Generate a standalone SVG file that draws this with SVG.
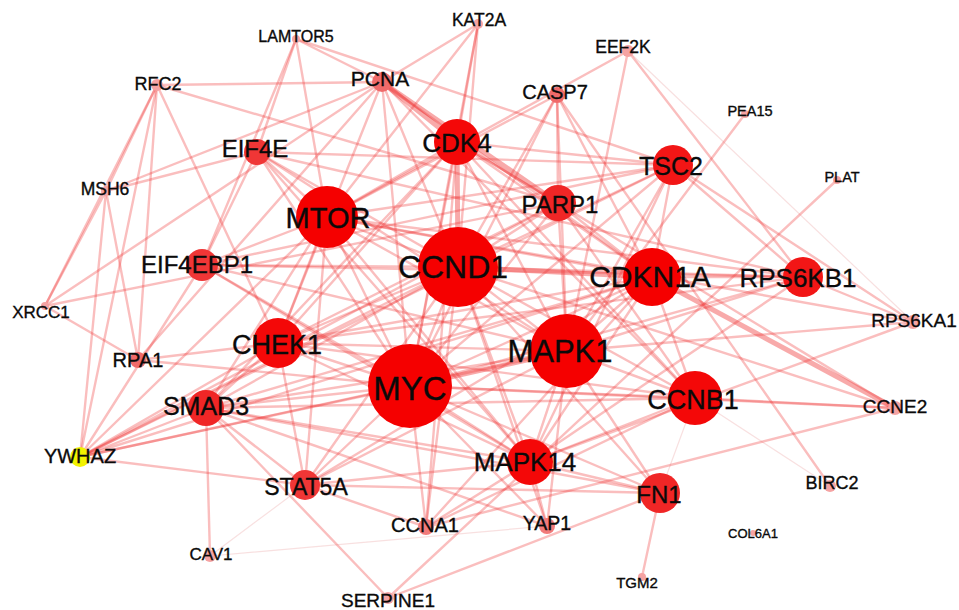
<svg xmlns="http://www.w3.org/2000/svg" width="959" height="610" viewBox="0 0 959 610">
<style>
#edges line{stroke:#ee3434;stroke-opacity:.32;stroke-width:2.4;stroke-linecap:round}
#edges line.t{stroke-width:5;stroke-opacity:.42}
#edges line.f{stroke:#e07070;stroke-opacity:.22;stroke-width:1.2}
text{font-family:"Liberation Sans",Arial,sans-serif;fill:#0a0a0a;stroke:#0a0a0a;stroke-width:.35;text-anchor:middle}
.c1{fill:#f50000}.c2{fill:#f40808}.c3{fill:#f21616}.c4{fill:#f02626}.c5{fill:#f03636}.c6{fill:#f06a6a}.c7{fill:#f27a7a}.c8{fill:#f5a3a3}.cy{fill:#f2f200}
</style>
<rect width="959" height="610" fill="#fff"/>
<g id="edges">
<line x1="458" y1="267" x2="410" y2="386"/>
<line x1="458" y1="267" x2="567" y2="351"/>
<line x1="458" y1="267" x2="327" y2="217"/>
<line class="t" x1="458" y1="267" x2="652" y2="277"/>
<line class="t" x1="458" y1="267" x2="457" y2="142"/>
<line x1="458" y1="267" x2="695" y2="398"/>
<line x1="458" y1="267" x2="278" y2="343"/>
<line x1="458" y1="267" x2="530" y2="462"/>
<line x1="458" y1="267" x2="803" y2="277"/>
<line x1="458" y1="267" x2="673" y2="165"/>
<line x1="458" y1="267" x2="558" y2="203"/>
<line x1="458" y1="267" x2="206" y2="408"/>
<line x1="458" y1="267" x2="660" y2="493"/>
<line x1="458" y1="267" x2="202" y2="265"/>
<line x1="458" y1="267" x2="257" y2="152"/>
<line x1="458" y1="267" x2="305" y2="485"/>
<line x1="458" y1="267" x2="382" y2="82"/>
<line x1="458" y1="267" x2="557" y2="95"/>
<line x1="458" y1="267" x2="80" y2="457"/>
<line x1="458" y1="267" x2="426" y2="527"/>
<line x1="458" y1="267" x2="547" y2="526"/>
<line x1="458" y1="267" x2="895" y2="408"/>
<line x1="458" y1="267" x2="478" y2="24"/>
<line class="t" x1="410" y1="386" x2="567" y2="351"/>
<line x1="410" y1="386" x2="327" y2="217"/>
<line x1="410" y1="386" x2="652" y2="277"/>
<line x1="410" y1="386" x2="457" y2="142"/>
<line x1="410" y1="386" x2="695" y2="398"/>
<line x1="410" y1="386" x2="278" y2="343"/>
<line x1="410" y1="386" x2="530" y2="462"/>
<line x1="410" y1="386" x2="803" y2="277"/>
<line x1="410" y1="386" x2="673" y2="165"/>
<line x1="410" y1="386" x2="558" y2="203"/>
<line x1="410" y1="386" x2="206" y2="408"/>
<line x1="410" y1="386" x2="660" y2="493"/>
<line x1="410" y1="386" x2="202" y2="265"/>
<line x1="410" y1="386" x2="257" y2="152"/>
<line x1="410" y1="386" x2="305" y2="485"/>
<line x1="410" y1="386" x2="382" y2="82"/>
<line x1="410" y1="386" x2="557" y2="95"/>
<line x1="410" y1="386" x2="80" y2="457"/>
<line x1="410" y1="386" x2="426" y2="527"/>
<line x1="410" y1="386" x2="547" y2="526"/>
<line x1="410" y1="386" x2="895" y2="408"/>
<line x1="410" y1="386" x2="478" y2="24"/>
<line x1="410" y1="386" x2="138" y2="360"/>
<line x1="567" y1="351" x2="327" y2="217"/>
<line x1="567" y1="351" x2="652" y2="277"/>
<line x1="567" y1="351" x2="457" y2="142"/>
<line x1="567" y1="351" x2="695" y2="398"/>
<line x1="567" y1="351" x2="278" y2="343"/>
<line x1="567" y1="351" x2="530" y2="462"/>
<line x1="567" y1="351" x2="803" y2="277"/>
<line x1="567" y1="351" x2="673" y2="165"/>
<line x1="567" y1="351" x2="558" y2="203"/>
<line x1="567" y1="351" x2="206" y2="408"/>
<line x1="567" y1="351" x2="660" y2="493"/>
<line x1="567" y1="351" x2="202" y2="265"/>
<line x1="567" y1="351" x2="257" y2="152"/>
<line x1="567" y1="351" x2="305" y2="485"/>
<line x1="567" y1="351" x2="557" y2="95"/>
<line x1="567" y1="351" x2="80" y2="457"/>
<line x1="567" y1="351" x2="745" y2="114"/>
<line x1="567" y1="351" x2="913" y2="322"/>
<line x1="567" y1="351" x2="628" y2="51"/>
<line x1="567" y1="351" x2="547" y2="526"/>
<line x1="327" y1="217" x2="652" y2="277"/>
<line x1="327" y1="217" x2="457" y2="142"/>
<line x1="327" y1="217" x2="278" y2="343"/>
<line x1="327" y1="217" x2="530" y2="462"/>
<line x1="327" y1="217" x2="803" y2="277"/>
<line x1="327" y1="217" x2="673" y2="165"/>
<line x1="327" y1="217" x2="206" y2="408"/>
<line x1="327" y1="217" x2="202" y2="265"/>
<line x1="327" y1="217" x2="257" y2="152"/>
<line x1="327" y1="217" x2="305" y2="485"/>
<line x1="327" y1="217" x2="296" y2="39"/>
<line x1="327" y1="217" x2="628" y2="51"/>
<line x1="327" y1="217" x2="913" y2="322"/>
<line x1="327" y1="217" x2="80" y2="457"/>
<line x1="327" y1="217" x2="478" y2="24"/>
<line x1="327" y1="217" x2="557" y2="95"/>
<line x1="652" y1="277" x2="457" y2="142"/>
<line x1="652" y1="277" x2="695" y2="398"/>
<line x1="652" y1="277" x2="278" y2="343"/>
<line x1="652" y1="277" x2="530" y2="462"/>
<line x1="652" y1="277" x2="558" y2="203"/>
<line x1="652" y1="277" x2="206" y2="408"/>
<line x1="652" y1="277" x2="382" y2="82"/>
<line x1="652" y1="277" x2="557" y2="95"/>
<line class="t" x1="652" y1="277" x2="895" y2="408"/>
<line x1="652" y1="277" x2="426" y2="527"/>
<line x1="652" y1="277" x2="305" y2="485"/>
<line x1="652" y1="277" x2="673" y2="165"/>
<line x1="652" y1="277" x2="80" y2="457"/>
<line x1="652" y1="277" x2="803" y2="277"/>
<line x1="457" y1="142" x2="695" y2="398"/>
<line x1="457" y1="142" x2="278" y2="343"/>
<line x1="457" y1="142" x2="558" y2="203"/>
<line x1="457" y1="142" x2="478" y2="24"/>
<line x1="457" y1="142" x2="895" y2="408"/>
<line x1="457" y1="142" x2="426" y2="527"/>
<line x1="457" y1="142" x2="206" y2="408"/>
<line x1="457" y1="142" x2="673" y2="165"/>
<line class="t" x1="457" y1="142" x2="382" y2="82"/>
<line x1="695" y1="398" x2="278" y2="343"/>
<line x1="695" y1="398" x2="530" y2="462"/>
<line x1="695" y1="398" x2="382" y2="82"/>
<line x1="695" y1="398" x2="895" y2="408"/>
<line x1="695" y1="398" x2="426" y2="527"/>
<line class="f" x1="695" y1="398" x2="660" y2="493"/>
<line class="f" x1="695" y1="398" x2="830" y2="486"/>
<line x1="695" y1="398" x2="558" y2="203"/>
<line x1="695" y1="398" x2="206" y2="408"/>
<line x1="278" y1="343" x2="382" y2="82"/>
<line x1="278" y1="343" x2="138" y2="360"/>
<line x1="278" y1="343" x2="157" y2="85"/>
<line x1="278" y1="343" x2="558" y2="203"/>
<line x1="278" y1="343" x2="530" y2="462"/>
<line x1="278" y1="343" x2="206" y2="408"/>
<line x1="278" y1="343" x2="80" y2="457"/>
<line x1="278" y1="343" x2="305" y2="485"/>
<line x1="278" y1="343" x2="803" y2="277"/>
<line x1="530" y1="462" x2="206" y2="408"/>
<line x1="530" y1="462" x2="305" y2="485"/>
<line x1="530" y1="462" x2="803" y2="277"/>
<line x1="530" y1="462" x2="547" y2="526"/>
<line x1="530" y1="462" x2="426" y2="527"/>
<line x1="530" y1="462" x2="660" y2="493"/>
<line x1="530" y1="462" x2="257" y2="152"/>
<line x1="530" y1="462" x2="202" y2="265"/>
<line x1="530" y1="462" x2="913" y2="322"/>
<line x1="530" y1="462" x2="673" y2="165"/>
<line x1="803" y1="277" x2="673" y2="165"/>
<line x1="803" y1="277" x2="202" y2="265"/>
<line x1="803" y1="277" x2="257" y2="152"/>
<line x1="803" y1="277" x2="628" y2="51"/>
<line x1="803" y1="277" x2="913" y2="322"/>
<line x1="673" y1="165" x2="202" y2="265"/>
<line x1="673" y1="165" x2="257" y2="152"/>
<line x1="673" y1="165" x2="913" y2="322"/>
<line x1="673" y1="165" x2="80" y2="457"/>
<line x1="673" y1="165" x2="296" y2="39"/>
<line class="t" x1="558" y1="203" x2="382" y2="82"/>
<line x1="558" y1="203" x2="557" y2="95"/>
<line x1="558" y1="203" x2="45" y2="306"/>
<line x1="558" y1="203" x2="157" y2="85"/>
<line x1="558" y1="203" x2="80" y2="457"/>
<line x1="206" y1="408" x2="305" y2="485"/>
<line x1="206" y1="408" x2="80" y2="457"/>
<line x1="206" y1="408" x2="210" y2="556"/>
<line x1="206" y1="408" x2="388" y2="598"/>
<line x1="206" y1="408" x2="547" y2="526"/>
<line x1="206" y1="408" x2="660" y2="493"/>
<line x1="202" y1="265" x2="257" y2="152"/>
<line x1="202" y1="265" x2="296" y2="39"/>
<line x1="202" y1="265" x2="80" y2="457"/>
<line x1="257" y1="152" x2="296" y2="39"/>
<line x1="257" y1="152" x2="106" y2="191"/>
<line x1="382" y1="82" x2="157" y2="85"/>
<line x1="382" y1="82" x2="106" y2="191"/>
<line x1="382" y1="82" x2="45" y2="306"/>
<line x1="382" y1="82" x2="138" y2="360"/>
<line x1="382" y1="82" x2="478" y2="24"/>
<line x1="382" y1="82" x2="296" y2="39"/>
<line x1="157" y1="85" x2="106" y2="191"/>
<line x1="157" y1="85" x2="45" y2="306"/>
<line x1="157" y1="85" x2="138" y2="360"/>
<line x1="106" y1="191" x2="138" y2="360"/>
<line x1="106" y1="191" x2="45" y2="306"/>
<line x1="45" y1="306" x2="138" y2="360"/>
<line x1="80" y1="457" x2="157" y2="85"/>
<line x1="80" y1="457" x2="305" y2="485"/>
<line x1="80" y1="457" x2="106" y2="191"/>
<line x1="305" y1="485" x2="426" y2="527"/>
<line x1="305" y1="485" x2="660" y2="493"/>
<line x1="388" y1="598" x2="660" y2="493"/>
<line x1="388" y1="598" x2="837" y2="180"/>
<line x1="660" y1="493" x2="642" y2="577"/>
<line x1="895" y1="408" x2="426" y2="527"/>
<line x1="830" y1="486" x2="557" y2="95"/>
<line class="f" x1="628" y1="51" x2="913" y2="322"/>
<line class="f" x1="210" y1="556" x2="305" y2="485"/>
<line class="f" x1="210" y1="556" x2="547" y2="526"/>
</g>
<g id="n-COL6A1"><circle class="c8" cx="753" cy="533" r="3"/><text x="753" y="538" font-size="13">COL6A1</text></g>
<g id="n-LAMTOR5"><circle class="c8" cx="296" cy="39" r="4"/><text x="296" y="42" font-size="16">LAMTOR5</text></g>
<g id="n-KAT2A"><circle class="c8" cx="478" cy="24" r="5"/><text x="479" y="26" font-size="17.5">KAT2A</text></g>
<g id="n-EEF2K"><circle class="c8" cx="628" cy="51" r="6"/><text x="623" y="53" font-size="17.5">EEF2K</text></g>
<g id="n-PEA15"><circle class="c8" cx="745" cy="114" r="4"/><text x="750" y="116" font-size="14.5">PEA15</text></g>
<g id="n-PLAT"><circle class="c8" cx="837" cy="180" r="4"/><text x="842" y="182" font-size="14.5">PLAT</text></g>
<g id="n-RFC2"><circle class="c8" cx="157" cy="85" r="6"/><text x="158" y="90" font-size="18">RFC2</text></g>
<g id="n-MSH6"><circle class="c8" cx="106" cy="191" r="5"/><text x="105" y="195" font-size="17.5">MSH6</text></g>
<g id="n-XRCC1"><circle class="c8" cx="45" cy="306" r="4"/><text x="41" y="318" font-size="17">XRCC1</text></g>
<g id="n-RPS6KA1"><circle class="c8" cx="913" cy="322" r="7"/><text x="914" y="327" font-size="19">RPS6KA1</text></g>
<g id="n-CCNE2"><circle class="c8" cx="895" cy="408" r="7"/><text x="895" y="413" font-size="19">CCNE2</text></g>
<g id="n-BIRC2"><circle class="c8" cx="830" cy="486" r="6"/><text x="832" y="489" font-size="18">BIRC2</text></g>
<g id="n-TGM2"><circle class="c8" cx="642" cy="577" r="4"/><text x="637" y="588" font-size="15">TGM2</text></g>
<g id="n-CAV1"><circle class="c8" cx="210" cy="556" r="6"/><text x="211" y="560" font-size="17">CAV1</text></g>
<g id="n-SERPINE1"><circle class="c8" cx="388" cy="598" r="6"/><text x="388" y="607" font-size="19">SERPINE1</text></g>
<g id="n-CCNA1"><circle class="c7" cx="426" cy="527" r="8"/><text x="425" y="532" font-size="20">CCNA1</text></g>
<g id="n-YAP1"><circle class="c7" cx="547" cy="526" r="8"/><text x="547" y="530" font-size="19.5">YAP1</text></g>
<g id="n-YWHAZ"><circle class="cy" cx="80" cy="457" r="10"/><text x="80" y="463" font-size="20">YWHAZ</text></g>
<g id="n-RPA1"><circle class="c6" cx="138" cy="360" r="8"/><text x="138" y="367" font-size="20">RPA1</text></g>
<g id="n-CASP7"><circle class="c6" cx="557" cy="95" r="8"/><text x="555" y="99" font-size="20">CASP7</text></g>
<g id="n-PCNA"><circle class="c6" cx="382" cy="82" r="10"/><text x="380" y="86" font-size="21">PCNA</text></g>
<g id="n-STAT5A"><circle class="c5" cx="305" cy="485" r="15"/><text x="306" y="495" font-size="23">STAT5A</text></g>
<g id="n-EIF4E"><circle class="c5" cx="257" cy="152" r="13"/><text x="255" y="157" font-size="24">EIF4E</text></g>
<g id="n-EIF4EBP1"><circle class="c5" cx="202" cy="265" r="16"/><text x="197" y="273" font-size="24">EIF4EBP1</text></g>
<g id="n-FN1"><circle class="c4" cx="660" cy="493" r="20"/><text x="659" y="503" font-size="24">FN1</text></g>
<g id="n-SMAD3"><circle class="c4" cx="206" cy="408" r="18"/><text x="206" y="415" font-size="25">SMAD3</text></g>
<g id="n-PARP1"><circle class="c4" cx="558" cy="203" r="18"/><text x="560" y="213" font-size="24">PARP1</text></g>
<g id="n-TSC2"><circle class="c3" cx="673" cy="165" r="20"/><text x="671" y="175" font-size="25">TSC2</text></g>
<g id="n-RPS6KB1"><circle class="c3" cx="803" cy="277" r="20"/><text x="798" y="287" font-size="26">RPS6KB1</text></g>
<g id="n-MAPK14"><circle class="c2" cx="530" cy="462" r="23"/><text x="525" y="471" font-size="26">MAPK14</text></g>
<g id="n-CHEK1"><circle class="c2" cx="278" cy="343" r="25"/><text x="277" y="354" font-size="27">CHEK1</text></g>
<g id="n-CCNB1"><circle class="c2" cx="695" cy="398" r="27"/><text x="693" y="409" font-size="27">CCNB1</text></g>
<g id="n-CDK4"><circle class="c2" cx="457" cy="142" r="23"/><text x="457" y="152" font-size="26">CDK4</text></g>
<g id="n-CDKN1A"><circle class="c1" cx="652" cy="277" r="29"/><text x="650" y="287" font-size="30">CDKN1A</text></g>
<g id="n-MTOR"><circle class="c1" cx="327" cy="217" r="31"/><text x="328" y="228" font-size="29">MTOR</text></g>
<g id="n-MAPK1"><circle class="c1" cx="567" cy="351" r="37"/><text x="560" y="362" font-size="31">MAPK1</text></g>
<g id="n-MYC"><circle class="c1" cx="410" cy="386" r="42"/><text x="410" y="400" font-size="33">MYC</text></g>
<g id="n-CCND1"><circle class="c1" cx="458" cy="267" r="40"/><text x="453" y="278" font-size="32">CCND1</text></g>
</svg>
